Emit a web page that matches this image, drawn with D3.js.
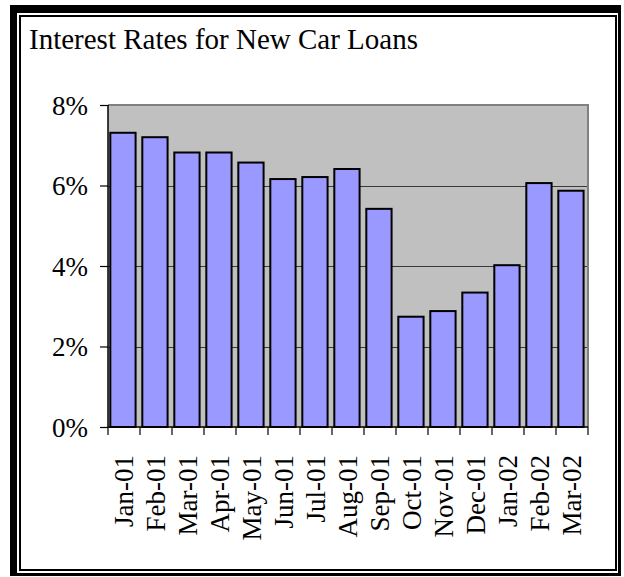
<!DOCTYPE html>
<html><head><meta charset="utf-8">
<script src="https://cdn.jsdelivr.net/npm/d3@7"></script>
<style>html,body{margin:0;padding:0;background:#fff;overflow:hidden}</style>
</head><body>
<script>
// ---- data ----
const chartTitle = "Interest Rates for New Car Loans";
const categories = ["Jan-01","Feb-01","Mar-01","Apr-01","May-01","Jun-01","Jul-01","Aug-01","Sep-01","Oct-01","Nov-01","Dec-01","Jan-02","Feb-02","Mar-02"];
const rates = [7.31, 7.20, 6.82, 6.82, 6.57, 6.16, 6.21, 6.41, 5.42, 2.74, 2.88, 3.34, 4.02, 6.06, 5.87];
const yTickValues = [0, 2, 4, 6, 8];
const yTickLabels = ["0%", "2%", "4%", "6%", "8%"];

// ---- layout ----
const W = 624, H = 577;
const plot = {left: 108, right: 588, top: 105, bottom: 427};
const FONT = "'Liberation Serif','Times New Roman',serif";

const svg = d3.select("body").append("svg").attr("width", W).attr("height", H);

// frame
svg.append("rect").attr("x", 10).attr("y", 5).attr("width", 611).attr("height", 571).attr("fill", "#000");
svg.append("rect").attr("x", 17).attr("y", 13).attr("width", 601).attr("height", 560).attr("fill", "#fff");
svg.append("rect").attr("x", 20).attr("y", 16).attr("width", 596).attr("height", 554)
  .attr("fill", "none").attr("stroke", "#000").attr("stroke-width", 2);

// title
svg.append("text").attr("x", 29).attr("y", 49).attr("font-family", FONT).attr("font-size", 29)
  .attr("fill", "#000").text(chartTitle);

const x = d3.scaleBand().domain(categories).range([plot.left, plot.right]).padding(0);
const y = d3.scaleLinear().domain([0, 8]).range([plot.bottom, plot.top]);

// plot area
svg.append("rect").attr("x", plot.left).attr("y", plot.top)
  .attr("width", plot.right - plot.left).attr("height", plot.bottom - plot.top).attr("fill", "#c0c0c0");

// gridlines
svg.append("g").selectAll("line").data(yTickValues.filter(v => v > 0 && v < 8)).join("line")
  .attr("x1", plot.left).attr("x2", plot.right)
  .attr("y1", d => Math.round(y(d)) + 0.5).attr("y2", d => Math.round(y(d)) + 0.5)
  .attr("stroke", "#3a3a3a").attr("stroke-width", 1);

// plot border top/right (gray)
svg.append("path").attr("d", `M${plot.left},${plot.top}H${plot.right}V${plot.bottom}`)
  .attr("fill", "none").attr("stroke", "#808080").attr("stroke-width", 2);

// bars
const bw = x.bandwidth();
svg.append("g").selectAll("rect").data(rates).join("rect")
  .attr("x", (d, i) => x(categories[i]) + bw * 0.072)
  .attr("width", bw * 0.79)
  .attr("y", d => y(d))
  .attr("height", d => y(0) - y(d))
  .attr("fill", "#9999ff").attr("stroke", "#000").attr("stroke-width", 2);

// y axis
const yAxis = d3.axisLeft(y).tickValues(yTickValues).tickSize(8).tickPadding(12)
  .tickFormat((d, i) => yTickLabels[i]);
const gy = svg.append("g").attr("transform", `translate(${plot.left},0)`).call(yAxis);
gy.select(".domain").attr("stroke", "#000").attr("stroke-width", 1.5).attr("d", `M0,${plot.top}V${plot.bottom}`);
gy.selectAll(".tick line").attr("stroke", "#000").attr("stroke-width", 1.2);
gy.selectAll(".tick text").attr("font-family", FONT).attr("font-size", 27).attr("fill", "#000").attr("dy", "0.35em");

// x axis: ticks at category boundaries
const gx = svg.append("g");
gx.append("line").attr("x1", plot.left).attr("x2", plot.right).attr("y1", plot.bottom).attr("y2", plot.bottom)
  .attr("stroke", "#000").attr("stroke-width", 1.5);
const boundaries = categories.map(c => x(c)).concat([x(categories[categories.length - 1]) + bw]);
gx.selectAll("line.tk").data(boundaries).join("line").attr("class", "tk")
  .attr("x1", d => d).attr("x2", d => d).attr("y1", plot.bottom).attr("y2", plot.bottom + 8)
  .attr("stroke", "#000").attr("stroke-width", 1.2);
gx.selectAll("text").data(categories).join("text")
  .attr("transform", d => `translate(${x(d) + bw / 2},455) rotate(-90)`)
  .attr("text-anchor", "end").attr("dy", "0.35em")
  .attr("font-family", FONT).attr("font-size", 27).attr("fill", "#000")
  .text(d => d);
</script>
</body></html>
